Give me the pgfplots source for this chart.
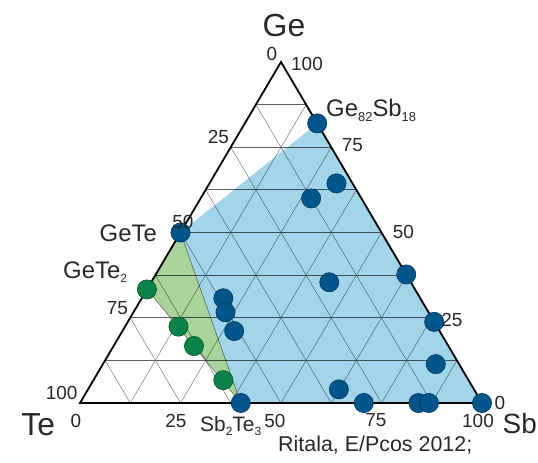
\documentclass[border=0pt]{standalone}
\usepackage{fontspec}
\setmainfont{Liberation Sans}
\usepackage{pgfplots}
\pgfplotsset{compat=1.18}
\usepackage{pgfplotstable}

\definecolor{txt}{RGB}{40,40,40}
\definecolor{regblue}{RGB}{163,213,234}
\definecolor{reggreen}{RGB}{170,210,155}
\definecolor{dotblue}{RGB}{0,85,138}
\definecolor{dotblueedge}{RGB}{0,55,95}
\definecolor{dotgreen}{RGB}{12,130,72}
\definecolor{dotgreenedge}{RGB}{0,85,45}
\definecolor{gridc}{RGB}{120,120,120}

% compositions in at.% (Ge, Sb, Te)
\pgfplotstableread{
Ge   Sb   Te
82   18   0
64.4 31.6 4.0
60.0 27.5 12.5
50   0    50
37.7 62.3 0
35.4 44.3 20.3
30.7 20.3 49.0
26.6 22.9 50.5
21.1 27.8 51.1
23.8 76.2 0
11.4 82.8 5.8
4.0  62.4 33.6
0    70.6 29.4
0    84.2 15.8
0    86.8 13.2
0    100  0
0    40   60
}\bluepts

\pgfplotstableread{
Ge   Sb   Te
33.3 0    66.7
22.4 13.3 64.3
16.7 20.0 63.3
6.7  32.3 61.0
}\greenpts

\pgfplotstableread{
Ge Sb Te
50 0   50
82 18  0
0  100 0
0  40  60
50 0   50
}\blueregion

\pgfplotstableread{
Ge   Sb Te
50   0  50
33.3 0  66.7
0    40 60
50   0  50
}\greenregion

\newcommand{\sub}[2][12]{\raisebox{-5pt}{\fontsize{#1}{#1}\selectfont #2}}

\begin{document}
\begin{tikzpicture}
\useasboundingbox (0,0) rectangle (538bp,-463bp);
\begin{axis}[
  at={(80bp,-403bp)}, anchor=south west,
  scale only axis, width=402bp, height=341bp,
  xmin=0, xmax=100, ymin=0, ymax=100,
  hide axis, clip=false,
  table/x expr={\thisrow{Sb}+0.5*\thisrow{Ge}},
  table/y expr={\thisrow{Ge}},
]
% grid (every 12.5 %)
\pgfplotsinvokeforeach{12.5,25,37.5,50,62.5,75,87.5}{
  \draw[gridc!80!black, line width=0.8bp] (axis cs:{0.5*#1},#1) -- (axis cs:{100-0.5*#1},#1);
  \draw[gridc, line width=0.5bp] (axis cs:#1,0) -- (axis cs:{#1+0.5*(100-#1)},{100-#1});
  \draw[gridc, line width=0.5bp] (axis cs:{100-#1},0) -- (axis cs:{0.5*(100-#1)},{100-#1});
}
% regions
\addplot[draw=none, fill=regblue, blend mode=multiply] table {\blueregion};
\addplot[draw=black!55, line width=0.5bp, fill=reggreen, blend mode=multiply] table {\greenregion};
% triangle
\draw[black, line width=1.8bp, line join=miter] (axis cs:0,0) -- (axis cs:100,0) -- (axis cs:50,100) -- cycle;
% points
\addplot[only marks, mark=*, mark size=9.6bp,
  mark options={fill=dotgreen, draw=dotgreenedge, line width=0.6bp}] table {\greenpts};
\addplot[only marks, mark=*, mark size=9.6bp,
  mark options={fill=dotblue, draw=dotblueedge, line width=0.6bp}] table {\bluepts};
\end{axis}

\begin{scope}[x=1bp, y=-1bp, every node/.style={inner sep=0pt, text=txt}]
% vertex labels
\node[anchor=base, font=\fontsize{32}{32}\selectfont] at (284,36) {Ge};
\node[anchor=base, font=\fontsize{32}{32}\selectfont] at (38.3,435) {Te};
\node[anchor=base east, font=\fontsize{28}{28}\selectfont] at (537,433) {Sb};
% compound labels
\node[anchor=base west, font=\fontsize{24}{24}\selectfont] at (326,116.7) {Ge\sub[13]{82}Sb\sub[13]{18}};
\node[anchor=base east, font=\fontsize{24}{24}\selectfont] at (157,241.7) {GeTe};
\node[anchor=base west, font=\fontsize{24}{24}\selectfont] at (63,278) {GeTe\sub{2}};
\node[anchor=base west, font=\fontsize{21}{21}\selectfont] at (200,431) {Sb\sub{2}Te\sub{3}};
\node[anchor=base west, font=\fontsize{21.5}{21.5}\selectfont] at (278,451.5) {Ritala, E/Pcos 2012;};
% tick labels
\begin{scope}[every node/.append style={font=\fontsize{19}{19}\selectfont}]
% left edge (Te)
\node at (272,54) {0};
\node at (218.3,136.7) {25};
\node at (183,221.7) {50};
\node at (117.5,308) {75};
\node at (61.7,393) {100};
% bottom edge (Sb)
\node at (76,420.5) {0};
\node at (176,420.5) {25};
\node at (275,420.5) {50};
\node at (376,420.5) {75};
\node at (478,420.5) {100};
% right edge (Ge)
\node at (307,63.5) {100};
\node at (352.5,145.5) {75};
\node at (403.3,231.7) {50};
\node at (452,320) {25};
\node at (500,402.5) {0};
\end{scope}
\end{scope}
\end{tikzpicture}
\end{document}
